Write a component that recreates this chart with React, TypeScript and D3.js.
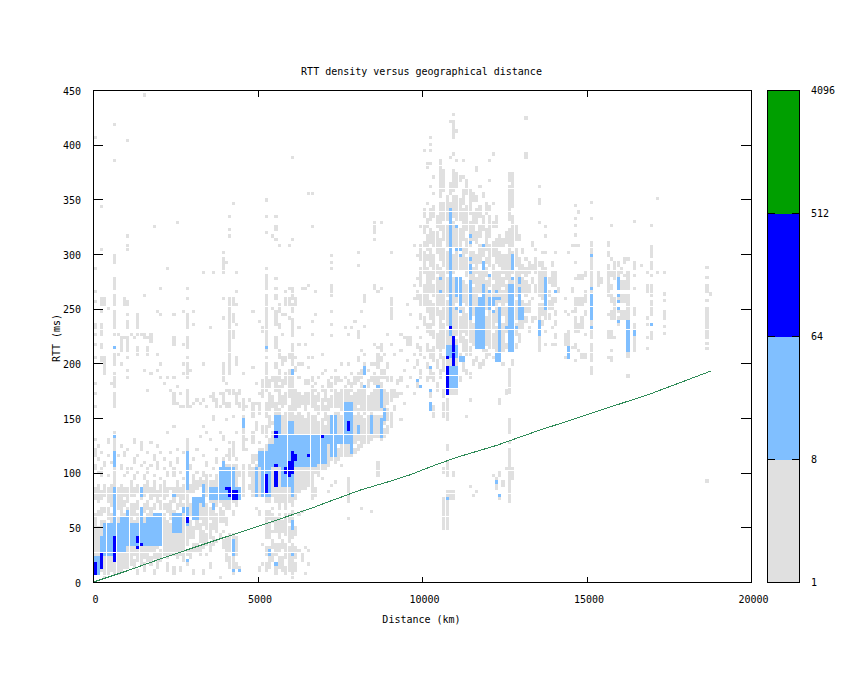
import React, { useEffect, useRef } from 'react';
import * as d3 from 'd3';

// count bins are 100 km wide and 3 ms tall: [km, [rttFrom, rttTo, rttFrom, rttTo, ...]]
const grayColumns: [number, number[]][] = [
  [0, [6,60, 75,84, 102,105, 114,120, 129,129, 159,159, 171,171, 180,180, 204,204, 216,216, 225,225, 231,234, 255,255, 264,264, 285,285, 405,405]],
  [100, [12,48, 60,63, 72,87, 99,99, 111,111, 123,123]],
  [200, [9,54, 60,66, 75,81, 96,102, 117,117, 201,204, 213,216, 225,234, 246,246, 252,258, 303,303, 342,342]],
  [300, [3,54, 63,66, 78,87, 105,108, 189,204, 252,258]],
  [400, [6,51, 57,66, 72,84, 96,96, 114,114, 126,129, 249,249]],
  [500, [9,60, 69,87, 108,108, 180,180]],
  [600, [6,135, 159,171, 177,189, 198,207, 225,225, 231,246, 252,261, 267,276, 291,297, 384,384, 417,417]],
  [700, [6,12, 15,57, 66,84, 114,114, 207,207, 225,225]],
  [800, [9,60, 63,69, 72,87, 102,105, 123,123, 198,198, 210,222]],
  [900, [12,60, 69,72, 78,84, 96,96, 114,117, 222,222, 252,258]],
  [1000, [12,66, 72,84, 99,102, 120,120, 186,186, 192,192, 204,204, 210,222, 231,237, 243,243, 252,255, 303,306, 315,315, 402,402]],
  [1100, [15,57, 60,69, 78,90, 102,102, 225,225]],
  [1200, [12,18, 24,54, 60,69, 78,84, 93,96, 108,111, 126,129, 222,222]],
  [1300, [6,9, 18,60, 66,72, 81,87, 99,99, 114,114, 207,213, 225,225, 231,243]],
  [1400, [15,66, 75,84, 105,105, 120,126, 225,225]],
  [1500, [9,15, 21,57, 63,69, 78,87, 93,96, 108,108, 192,192, 222,225, 261,261, 444,444]],
  [1600, [18,60, 66,72, 81,90, 99,102, 117,117, 174,174, 207,213, 222,222]],
  [1700, [15,21, 27,60, 63,66, 75,84, 105,105, 126,126, 189,189, 219,225]],
  [1800, [6,9, 21,60, 66,69, 78,90, 96,96, 111,114, 324,324]],
  [1900, [12,24, 30,60, 72,81, 102,108, 123,123, 192,192, 207,207, 246,246]],
  [2000, [18,27, 33,60, 66,72, 78,87, 93,93, 117,117, 186,186, 198,198, 243,243, 267,267]],
  [2100, [24,60, 66,69, 75,90, 102,102, 111,111, 180,180]],
  [2200, [9,15, 21,30, 33,54, 63,69, 78,84, 96,99, 135,135, 186,186, 285,285]],
  [2300, [24,51, 57,72, 84,84, 105,108, 117,117, 174,174]],
  [2400, [6,12, 24,63, 72,84, 96,102, 141,141, 162,171, 186,186, 216,222, 243,243]],
  [2500, [21,30, 33,60, 66,69, 78,90, 108,111, 120,120, 162,162, 177,177, 327,327]],
  [2600, [9,12, 24,60, 69,84, 99,99, 159,159, 171,171]],
  [2700, [18,24, 27,69, 75,87, 93,93, 117,117, 159,159, 189,189, 198,198, 216,216, 246,246]],
  [2800, [15,18, 24,27, 33,69, 72,129, 159,174, 186,198, 204,204, 213,222, 231,243, 258,258, 267,267]],
  [2900, [21,27, 39,54, 60,69, 81,87, 102,105, 159,159, 192,192]],
  [3000, [6,9, 27,33, 39,48, 57,75, 81,96, 111,111, 162,162, 234,234, 246,246]],
  [3100, [27,33, 48,75, 84,90, 99,99, 120,120, 165,165]],
  [3200, [24,30, 36,51, 57,75, 87,93, 132,132, 162,162]],
  [3300, [6,9, 30,45, 51,90, 96,99, 114,114, 141,141, 165,165, 198,198, 282,282]],
  [3400, [24,24, 33,42, 48,69, 78,96, 105,108, 135,135, 159,159]],
  [3500, [12,15, 27,33, 39,51, 57,66, 72,90, 96,96, 129,129, 168,168, 231,231]],
  [3600, [33,39, 48,72, 75,90, 102,102, 147,150, 165,171, 282,282]],
  [3700, [36,36, 45,60, 69,96, 108,111, 120,120, 159,165]],
  [3800, [3,3, 39,42, 54,66, 72,102, 135,135, 159,159, 171,171]],
  [3900, [30,36, 45,45, 54,63, 69,111, 129,132, 162,171, 183,198, 240,240, 258,258, 282,294, 300,300]],
  [4000, [18,39, 51,57, 66,105, 114,114, 147,147, 159,162, 174,174, 180,180, 291,291]],
  [4100, [12,21, 27,42, 66,105, 111,120, 126,126, 159,162, 171,174, 189,198, 201,207, 210,216, 219,234, 237,246, 249,258, 315,315, 321,321, 333,333]],
  [4200, [6,42, 60,63, 72,105, 114,126, 150,150, 171,174, 222,228, 237,243, 252,258, 345,345]],
  [4300, [12,15, 24,39, 69,105, 111,111, 135,135, 162,171, 198,204, 234,234, 252,252, 264,264, 282,282]],
  [4400, [9,12, 81,84, 96,99, 159,162, 171,174]],
  [4500, [78,105, 120,150, 156,165, 189,189]],
  [4600, [120,120, 129,129, 159,159]],
  [4700, [84,87, 96,105, 165,165]],
  [4800, [78,102, 108,114, 126,135, 150,162, 195,195, 246,246]],
  [4900, [66,66, 78,105, 111,114, 138,144, 162,162, 180,180]],
  [5000, [9,12, 60,63, 78,120, 126,126, 153,162, 171,171, 237,237, 159,159]],
  [5100, [15,15, 33,33, 78,120, 135,141, 168,177, 228,231, 180,183]],
  [5200, [9,15, 24,30, 39,63, 72,123, 132,141, 150,162, 174,198, 204,204, 210,216, 219,225, 228,246, 249,261, 267,279, 285,285, 318,318, 333,333, 348,348]],
  [5300, [12,30, 39,51, 57,63, 72,129, 141,150, 156,171, 177,183]],
  [5400, [18,24, 30,36, 45,45, 54,60, 66,66, 78,135, 144,144, 159,168, 183,186, 249,249, 315,315]],
  [5500, [6,15, 24,33, 45,57, 72,162, 174,186, 195,198, 213,222, 234,246, 258,261, 267,267, 276,276, 312,312, 321,324, 333,333]],
  [5600, [12,21, 27,33, 39,60, 66,156, 162,177, 183,192, 204,210, 231,234, 246,252, 306,306]],
  [5700, [9,21, 30,36, 45,54, 72,150, 159,168, 177,183, 198,204, 225,225, 243,243]],
  [5800, [6,12, 21,33, 42,60, 66,153, 162,171, 180,189, 201,204, 243,243, 252,258, 264,264]],
  [5900, [9,30, 36,48, 54,60, 72,159, 168,180, 183,192, 204,207, 240,240, 252,258, 267,267, 306,306]],
  [6000, [3,33, 39,63, 69,168, 171,183, 183,192, 198,207, 210,216, 224,240, 246,252, 258,267, 312,312, 387,387]],
  [6100, [9,15, 21,30, 42,48, 75,150, 156,174, 192,195, 204,204, 252,258]],
  [6200, [27,27, 60,60, 81,153, 159,171, 186,186, 198,198, 216,216, 231,231]],
  [6300, [18,24, 63,63, 84,150, 162,168, 198,198, 267,267]],
  [6400, [6,6, 30,30, 84,147, 156,171, 180,183, 216,216, 267,267]],
  [6500, [15,15, 27,27, 87,153, 162,171, 180,183, 195,195, 204,204, 270,270, 354,354]],
  [6600, [75,93, 96,150, 159,177, 183,186, 204,204, 225,225, 237,237, 354,354, 324,324]],
  [6700, [78,84, 99,150, 156,168, 174,174, 180,180, 243,243, 264,264]],
  [6800, [96,144, 153,159, 165,171, 186,186]],
  [6900, [93,93, 102,147, 156,165, 174,177, 189,189, 207,207]],
  [7000, [102,141, 147,159, 165,174, 192,192]],
  [7100, [81,81, 105,150, 156,165, 177,183]],
  [7200, [87,87, 111,150, 159,168, 174,180, 186,186, 224,224, 234,234, 246,246, 261,270, 285,285, 291,291, 297,297]],
  [7300, [90,90, 108,153, 159,174, 180,186, 192,192]],
  [7400, [111,120, 126,153, 159,171, 183,186]],
  [7500, [105,105, 114,123, 126,150, 156,174, 183,183, 198,198]],
  [7600, [114,123, 129,156, 162,177, 186,186, 231,231]],
  [7700, [57,57, 72,93, 114,150, 156,174, 180,183, 198,198, 225,225]],
  [7800, [114,120, 126,156, 162,168, 174,180, 189,189, 231,231]],
  [7900, [117,120, 126,150, 156,171, 180,186, 237,237]],
  [8000, [120,123, 129,156, 162,174, 183,189, 201,204, 222,228, 288,288, 300,300]],
  [8100, [66,66, 123,150, 156,180, 186,192, 210,210, 246,246]],
  [8200, [126,147, 153,177, 189,198, 207,207, 232,232, 255,261]],
  [8300, [126,150, 156,168, 177,183, 192,192]],
  [8400, [63,63, 129,147, 153,171, 183,186, 198,198]],
  [8500, [132,150, 156,174, 180,189, 198,198, 216,216, 267,270, 312,312, 318,327]],
  [8600, [96,108, 132,150, 156,177, 180,186, 195,207, 213,213, 264,264]],
  [8700, [129,150, 156,180, 186,192, 201,204, 210,216, 267,267, 327,327]],
  [8800, [132,138, 144,159, 162,174, 186,192, 207,207]],
  [8900, [135,141, 147,156, 162,171, 183,186, 195,198, 225,225]],
  [9000, [141,153, 165,174, 183,186, 216,216, 240,258, 300,300]],
  [9100, [156,159, 168,174, 207,207]],
  [9200, [168,171, 180,183]],
  [9300, [147,147, 171,171, 183,186, 210,210, 225,225]],
  [9400, [162,162, 192,192, 222,222]],
  [9500, [177,177, 201,201, 216,222, 252,252]],
  [9600, [186,186, 216,222, 243,243]],
  [9700, [171,171, 195,195, 207,207, 258,258, 270,270, 306,306]],
  [9800, [177,180, 198,201, 213,216, 231,231, 258,264, 276,276, 297,297]],
  [9900, [186,192, 207,213, 222,222, 240,243, 252,261, 270,285, 294,306, 324,324]],
  [10000, [204,204, 234,240, 252,270, 282,300, 306,309, 318,324, 333,339, 393,393]],
  [10100, [183,186, 195,198, 210,216, 228,234, 246,261, 264,285, 294,297, 303,315, 324,330, 345,345, 378,381]],
  [10200, [168,174, 186,192, 204,210, 225,234, 240,255, 264,282, 288,303, 309,321, 330,339, 360,360, 381,381, 393,393, 399,399, 405,405]],
  [10300, [150,159, 183,189, 201,213, 222,228, 234,252, 261,270, 276,297, 306,318, 333,342, 354,354, 369,369]],
  [10400, [174,180, 195,201, 213,225, 243,255, 258,276, 282,288, 300,318, 324,333]],
  [10500, [186,192, 204,216, 219,246, 252,285, 294,312, 321,345, 351,384]],
  [10600, [48,57, 60,75, 99,102, 150,162, 168,174, 192,204, 213,234, 240,282, 288,303, 312,324, 330,345, 357,375, 366,372]],
  [10700, [48,57, 60,81, 96,108, 120,123, 147,165, 171,228, 234,255, 261,276, 282,300, 306,324, 330,351]],
  [10800, [75,81, 171,237, 240,345, 354,363, 387,387, 420,420]],
  [10900, [75,81, 96,99, 171,180, 186,249, 252,276, 282,297, 306,327, 333,351, 357,375, 390,390, 405,420, 426,426]],
  [11000, [171,177, 183,219, 225,246, 255,276, 285,300, 306,324, 330,351, 360,372, 384,384, 411,411]],
  [11100, [183,186, 204,207, 219,240, 246,258, 261,276, 285,297, 306,321, 330,348, 366,369]],
  [11200, [192,201, 210,222, 228,249, 255,273, 285,303, 312,339, 345,357, 369,369, 384,384]],
  [11300, [150,150, 189,192, 207,219, 225,243, 252,270, 279,294, 300,312, 321,342, 354,366]],
  [11400, [86,86, 165,165, 186,189, 207,213, 219,252, 261,279, 285,300, 306,327, 336,357]],
  [11500, [78,78, 198,201, 216,234, 243,267, 273,285, 291,300, 312,336, 348,354]],
  [11600, [81,81, 201,204, 213,222, 228,276, 282,297, 309,318, 327,339, 348,351, 375,378]],
  [11700, [195,198, 213,258, 264,282, 291,306, 315,324, 333,342, 360,360]],
  [11800, [198,201, 210,252, 258,288, 297,303, 321,333, 351,354]],
  [11900, [204,210, 216,240, 249,273, 279,285, 291,294, 303,321, 336,345]],
  [12000, [207,207, 213,240, 243,264, 270,279, 288,306, 315,333, 339,342, 384,384, 366,366]],
  [12100, [96,96, 204,204, 213,225, 231,246, 255,270, 276,288, 297,309, 324,327, 345,345, 390,390]],
  [12200, [84,93, 201,207, 210,231, 237,261, 267,282, 291,312, 324,333]],
  [12300, [75,78, 96,99, 162,165, 201,207, 213,249, 255,282, 288,300, 306,315]],
  [12400, [87,90, 198,198, 210,234, 243,264, 270,276, 282,297, 306,312]],
  [12500, [102,102, 171,174, 213,216, 228,249, 255,270, 276,297, 309,318]],
  [12600, [72,120, 126,126, 135,147, 172,195, 210,255, 258,288, 291,321, 330,360, 366,372]],
  [12700, [93,102, 198,201, 210,255, 261,276, 282,300, 306,333, 342,372]],
  [12800, [213,216, 225,234, 240,255, 261,282, 288,303, 312,324]],
  [12900, [219,225, 231,249, 255,270, 279,294, 312,315]],
  [13000, [231,237, 243,255, 264,276, 282,288, 300,303]],
  [13100, [237,240, 246,252, 261,273, 279,285, 294,294, 387,390, 423,423]],
  [13200, [228,231, 246,255, 264,270, 282,291]],
  [13300, [237,240, 258,258, 273,276, 285,288, 306,309]],
  [13400, [240,240, 264,270, 282,294, 303,303]],
  [13500, [210,228, 231,241, 243,252, 261,282, 288,291, 327,327, 345,348, 360,360]],
  [13600, [234,237, 243,252, 258,282, 285,291, 300,300]],
  [13700, [216,216, 228,228, 240,246, 252,285, 324,324, 315,315, 300,300]],
  [13800, [240,243, 249,255, 261,264, 273,276]],
  [13900, [216,216, 231,231, 249,252, 255,258, 270,282, 288,291]],
  [14000, [216,216, 222,225, 234,237, 243,246, 255,258, 270,282, 300,300]],
  [14100, [264,267]],
  [14300, [204,204, 216,225, 246,246, 258,258]],
  [14400, [204,207, 213,228, 243,243, 300,300]],
  [14500, [213,213, 246,246, 264,267, 306,306]],
  [14600, [201,201, 213,216, 228,240, 246,258, 276,276, 291,291, 306,306, 316,316, 325,325, 331,331, 343,343]],
  [14700, [210,210, 228,234, 252,258, 276,279, 306,306, 337,337]],
  [14800, [204,207, 231,240, 252,258, 276,279]],
  [14900, [204,207, 225,225, 243,246, 255,264, 279,282]],
  [15100, [189,195, 201,218, 222,252, 255,273, 276,300, 303,310, 331,331, 346,346]],
  [15300, [270,282]],
  [15400, [273,276]],
  [15600, [204,204, 222,228, 243,243, 261,273, 276,288, 297,300, 306,309]],
  [15700, [201,204, 210,210, 222,228, 240,246, 255,261, 267,270, 279,282, 294,294, 325,325]],
  [15800, [222,222, 240,252, 255,258, 276,291]],
  [15900, [234,240, 246,249, 258,258, 273,282, 288,291]],
  [16000, [240,246, 255,261, 267,273, 282,285]],
  [16100, [240,246, 255,261, 267,273, 279,279, 291,294]],
  [16200, [187,187, 205,209, 240,249, 252,261, 267,282, 294,294]],
  [16400, [210,222, 231,234, 243,249, 267,267, 279,279, 285,291, 328,328]],
  [16600, [288,288]],
  [16800, [212,212, 222,222, 234,234, 240,240, 264,270, 282,282]],
  [16900, [221,227, 243,255, 261,270, 279,279, 285,291, 296,306, 325,325]],
  [17100, [282,282, 349,349]],
  [17300, [226,226, 232,232, 240,246, 256,256, 262,262, 282,282]],
  [18600, [91,91, 212,212, 217,217, 222,238, 240,250, 256,256, 264,270, 277,277, 286,286]],
  [18700, [262,262]],
];

// [kmFrom, kmTo, rttFrom, rttTo]
const lightBlocks: [number, number, number, number][] = [
  [0,100,6,21],[200,500,24,39],[300,500,42,51],[600,600,39,69],[600,600,72,84],[600,600,105,117],[600,600,132,132],
  [700,900,27,51],[800,900,51,57],[1000,2000,33,51],[1000,1000,51,63],[1400,1400,51,66],[1600,2000,51,57],[1800,2000,57,60],
  [1400,1400,78,84],[2400,2600,45,60],[2700,2800,63,66],[2800,2800,51,63],[2800,2800,84,102],[2800,2800,105,117],[2400,2400,78,78],
  [3000,3100,57,72],[3000,3300,72,75],[3300,3300,69,87],[3600,3600,66,69],[3500,4400,75,84],[3800,4200,84,102],[3900,3900,102,108],
  [4200,4200,24,36],[4200,4200,9,9],[4400,4400,9,9],[4500,4500,141,147],[2800,2800,18,18],
  [4900,4900,78,102],[5100,5300,78,102],[5000,5400,105,117],[5300,5400,117,123],[5500,6700,105,132],[5500,5600,132,150],[5900,6000,132,144],
  [5700,6000,87,102],[6000,6000,78,84],[5300,5300,24,27],[5500,5500,15,15],[6000,6000,48,54],[6000,6000,24,24],[6000,6000,189,189],[6000,6000,192,192],[5200,5200,213,213],[600,600,213,213],
  [6600,7000,108,132],[7100,7700,126,132],[7200,7300,132,150],[7200,7300,114,123],[7600,7800,129,162],[7800,7800,117,126],[8000,8000,135,141],
  [8400,8400,135,150],[8700,8700,159,174],[8700,8700,132,147],[8800,8800,147,156],[8200,8200,189,195],[8200,8200,177,177],[8600,8600,177,177],[9800,9800,183,183],[9900,9900,177,177],[10200,10200,195,195],[10200,10200,174,174],[10200,10200,156,162],[10700,10700,75,75],[12200,12200,90,90],[12300,12300,78,78],
  [10700,11000,205,216],[10800,11000,177,195],[11100,11200,201,204],[10800,10800,225,339],[11000,11000,324,324],[11000,11100,303,303],[11100,11100,297,297],[10500,10500,276,276],[10500,10500,264,264],
  [11400,11400,240,273],[11400,11400,282,288],[11400,11400,294,294],[11400,11400,309,309],[11400,11400,315,315],[11100,11100,246,246],[11000,11000,249,249],[11100,11100,252,258],[11000,11100,261,276],
  [11800,11800,255,270],[11800,11800,285,291],[11800,11800,306,306],[11600,11800,213,249],[11700,11800,252,258],[12000,12000,264,264],[12000,12000,279,279],[12000,12100,252,258],[12000,12000,249,249],[12200,12200,264,264],[12200,12300,258,258],[12100,12100,246,246],
  [12200,12300,201,207],[12300,12300,207,249],[12600,12700,210,228],[12600,12700,234,270],[12500,12800,231,231],[12700,12700,276,276],[12700,12700,285,297],[12900,12900,273,276],[12900,12900,252,267],[12900,13000,240,249],[13000,13000,240,243],
  [13500,13500,225,237],[13700,13700,249,276],[13700,13700,264,264],[14000,14000,264,264],[14400,14400,204,210],[14400,14400,213,213],
  [15100,15100,240,249],[15100,15100,252,258],[15100,15100,261,261],[15100,15100,267,267],[15100,15100,297,297],[15100,15100,231,231],[15900,15900,267,276],[15900,15900,261,261],[15900,15900,255,255],[15900,15900,249,249],[15900,15900,237,237],
  [16200,16200,210,219],[16200,16200,222,237],[16400,16400,225,228],[16900,16900,234,234],
];

const darkBlocks: [number, number, number, number][] = [
  [0,0,6,15],[200,200,12,24],[600,600,18,18],[600,600,21,39],[1300,1300,36,39],[1400,1400,33,33],[1300,1300,30,30],[2800,2800,54,57],
  [4000,4100,84,84],[4200,4300,75,81],[4100,4200,78,81],[5200,5200,81,96],[5500,5500,87,99],[5500,5500,105,105],[5500,5500,132,135],
  [5800,6000,99,102],[5900,5900,96,96],[6000,6000,105,117],[6100,6100,111,114],[5900,5900,105,108],[6500,6500,114,114],[6900,6900,132,132],[7700,7700,138,144],
  [10700,10700,171,195],[10700,10700,204,204],[10900,10900,198,222],[10800,10800,231,231],
];

// shortest-path line
const lineKm = [0, 500, 1000, 2020, 3000, 4000, 5010, 6580, 7200, 8100, 9000, 9620, 10300, 11040, 12255, 13570, 14500, 15500, 16920, 17800, 18770];
const lineRtt = [0, 5, 10, 21, 31, 41, 51, 67, 74, 84, 92, 98, 106, 114, 125, 139, 148, 158, 172, 182, 193];

const xTicks = [0, 5000, 10000, 15000, 20000];
const yTicks = [0, 50, 100, 150, 200, 250, 300, 350, 400, 450];
const scaleTicks = [1, 8, 64, 512, 4096];
const scaleBands = [[1, 8], [8, 64], [64, 512], [512, 4096]];
const bandColors = ['#e0e0e0', '#80bfff', '#0000ff', '#009f00'];

const binKm = 100;
const binRtt = 3;

const App: React.FC = () => {
  const svgRef = useRef<SVGSVGElement | null>(null);

  useEffect(() => {
    if (!svgRef.current) return;
    const svg = d3.select(svgRef.current);
    svg.selectAll('*').remove();

    const x = d3.scaleLinear().domain([0, 20000]).range([93, 751]);
    const y = d3.scaleLinear().domain([0, 450]).range([582, 90]);
    const colorY = d3.scaleLog().base(2).domain([1, 4096]).range([582, 90]);

    const cells = svg.append('g').attr('shape-rendering', 'crispEdges');
    // snapped to whole pixels, cells a bit short of their bin so thin white seams show
    const addCell = (km: number, rtt: number, fill: string) => {
      const x0 = Math.round(x(km) + 0.5);
      const x1 = Math.round(x(km + binKm) + 0.3);
      const y0 = Math.round(y(rtt + binRtt) + 0.14);
      const y1 = Math.round(y(rtt));
      cells.append('rect')
        .attr('x', x0)
        .attr('y', y0)
        .attr('width', x1 - x0)
        .attr('height', y1 - y0)
        .attr('fill', fill);
    };

    grayColumns.forEach(([km, runs]) => {
      for (let i = 0; i < runs.length; i += 2) {
        d3.range(runs[i], runs[i + 1] + 1, binRtt).forEach(rtt => addCell(km, rtt, bandColors[0]));
      }
    });
    const addBlocks = (blocks: [number, number, number, number][], fill: string) => {
      blocks.forEach(([k0, k1, r0, r1]) => {
        d3.range(k0, k1 + 1, binKm).forEach(km => {
          d3.range(r0, r1 + 1, binRtt).forEach(rtt => addCell(km, rtt, fill));
        });
      });
    };
    addBlocks(lightBlocks, bandColors[1]);
    addBlocks(darkBlocks, bandColors[2]);

    // distance line
    const line = d3.line<number>()
      .x((_, i) => x(lineKm[i]) + 0.5)
      .y(d => y(d));
    svg.append('path')
      .attr('d', line(lineRtt))
      .attr('fill', 'none')
      .attr('stroke', '#2e8b57')
      .attr('stroke-width', 1)
      .attr('shape-rendering', 'crispEdges');

    // axes, ticks point inward on all four sides
    const font = "'DejaVu Sans Mono', monospace";
    const styleAxis = (g: d3.Selection<SVGGElement, unknown, null, undefined>) => {
      g.attr('shape-rendering', 'crispEdges').attr('font-family', font).attr('font-size', 10);
      g.selectAll('text').attr('fill', '#000');
      g.selectAll('.domain,.tick line').attr('stroke', '#000');
    };
    svg.append<SVGGElement>('g')
      .attr('transform', 'translate(0,582)')
      .call(d3.axisBottom(x).tickValues(xTicks).tickFormat(d3.format('d')).tickSizeInner(-5).tickSizeOuter(0).tickPadding(14))
      .call(styleAxis)
      .call(g => g.selectAll('text').attr('dx', 2));
    svg.append<SVGGElement>('g')
      .attr('transform', 'translate(0,90)')
      .call(d3.axisTop(x).tickValues(xTicks).tickFormat(() => '').tickSizeInner(-7).tickSizeOuter(0))
      .call(styleAxis);
    svg.append<SVGGElement>('g')
      .attr('transform', 'translate(93,0)')
      .call(d3.axisLeft(y).tickValues(yTicks).tickFormat(d3.format('d')).tickSizeInner(-10).tickSizeOuter(0).tickPadding(12))
      .call(styleAxis)
      .call(g => g.selectAll('text').attr('dy', '0.42em'));
    svg.append<SVGGElement>('g')
      .attr('transform', 'translate(751,0)')
      .call(d3.axisRight(y).tickValues(yTicks).tickFormat(() => '').tickSizeInner(-10).tickSizeOuter(0))
      .call(styleAxis);

    // colour scale on the right
    const bar = svg.append('g').attr('shape-rendering', 'crispEdges');
    bar.selectAll('rect.band')
      .data(scaleBands)
      .enter()
      .append('rect')
      .attr('class', 'band')
      .attr('x', 768)
      .attr('width', 31)
      .attr('y', d => colorY(d[1]) + 1)
      .attr('height', d => colorY(d[0]) - colorY(d[1]))
      .attr('fill', (_, i) => bandColors[i]);
    bar.append('rect')
      .attr('x', 767.5)
      .attr('y', 90.5)
      .attr('width', 32)
      .attr('height', 492)
      .attr('fill', 'none')
      .attr('stroke', '#000');
    const inner = scaleTicks.slice(1, -1);
    [[768, 775], [792, 799]].forEach(([a, b]) => {
      bar.selectAll(null)
        .data(inner)
        .enter()
        .append('line')
        .attr('x1', a)
        .attr('x2', b)
        .attr('y1', d => Math.floor(colorY(d)) + 0.5)
        .attr('y2', d => Math.floor(colorY(d)) + 0.5)
        .attr('stroke', '#000');
    });
    bar.selectAll('text')
      .data(scaleTicks)
      .enter()
      .append('text')
      .attr('x', 811)
      .attr('y', d => colorY(d) + 1)
      .attr('dy', '0.32em')
      .attr('font-family', font)
      .attr('font-size', 10)
      .text(d => d);

    // titles
    const label = (tx: number, ty: number, text: string, rotate = false) => {
      svg.append('text')
        .attr('transform', `translate(${tx},${ty})${rotate ? ' rotate(-90)' : ''}`)
        .attr('text-anchor', 'middle')
        .attr('font-family', font)
        .attr('font-size', 10)
        .text(text);
    };
    label(421.5, 75, 'RTT density versus geographical distance');
    label(421.5, 623, 'Distance (km)');
    label(60, 338, 'RTT (ms)', true);
  }, []);

  return <svg ref={svgRef} width={845} height={673} style={{ position: 'absolute', left: 0, top: 0, background: '#fff' }} />;
};

export default App;
